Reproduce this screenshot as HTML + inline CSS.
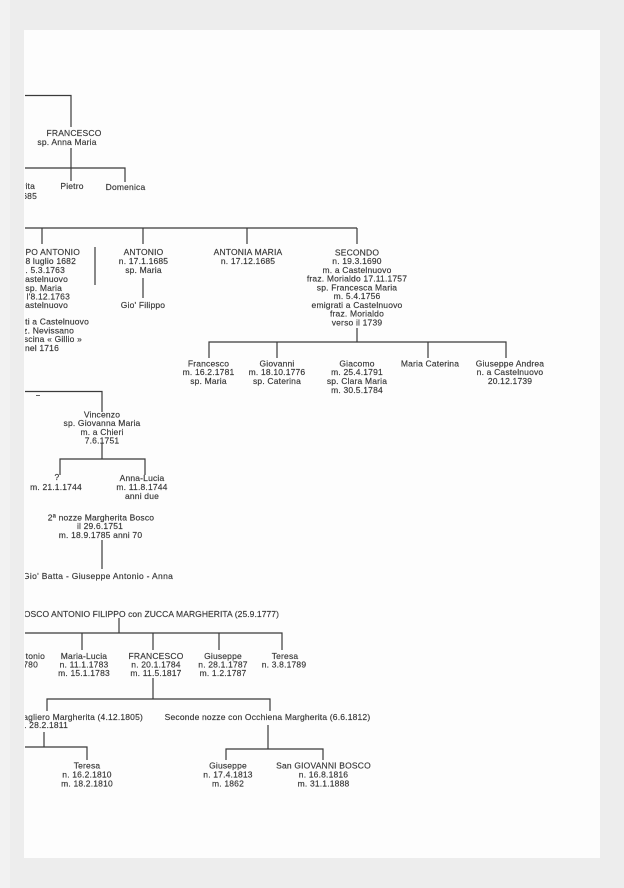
<!DOCTYPE html>
<html>
<head>
<meta charset="utf-8">
<style>
html,body{margin:0;padding:0;background:#ededed;}
svg{display:block;}
text{font-family:"Liberation Sans",Arial,sans-serif;font-size:8.5px;fill:#353535;stroke:#353535;stroke-width:0.15px;letter-spacing:0.18px;}
.m{text-anchor:middle;}
.e{text-anchor:end;}
</style>
</head>
<body>
<svg width="624" height="888" viewBox="0 0 624 888" xmlns="http://www.w3.org/2000/svg">
<defs>
<clipPath id="pg"><rect x="25" y="30" width="575" height="828"/></clipPath>
</defs>
<rect x="0" y="0" width="624" height="888" fill="#ededed"/>
<rect x="0" y="0" width="10" height="888" fill="#f2f2f2"/>
<rect x="24" y="30" width="576" height="828" fill="#fdfdfd"/>

<g clip-path="url(#pg)">
<g fill="none" stroke="#3a3a3a" stroke-width="1.2">
<path d="M20 95.5 H71 V127"/>
<path d="M71 148 V181"/>
<path d="M20 168 H125 V182"/>
<path d="M20 228 H357"/>
<path d="M42 228 V244 M143 228 V244 M247 228 V244 M357 228 V244"/>
<path d="M95 247 V285"/>
<path d="M143 278 V298"/>
<path d="M357 328 V342"/>
<path d="M209 358 V342 H506 V358"/>
<path d="M277 342 V358 M428 342 V358"/>
<path d="M20 391.5 H102 V412"/>
<path d="M36 395.5 H40" stroke-width="0.8"/>
<path d="M102 443 V459"/>
<path d="M60 475 V459 H145 V475"/>
<path d="M102 540 V569"/>
<path d="M119 618 V633"/>
<path d="M20 633 H282 V650"/>
<path d="M82 633 V650 M153 633 V650 M219 633 V650"/>
<path d="M153 678 V699"/>
<path d="M47 711 V699 H270 V711"/>
<path d="M44 732 V747"/>
<path d="M20 747 H87 V760"/>
<path d="M268 725 V749"/>
<path d="M226 760 V749 H323 V760"/>
</g>

<text class="m" x="74" y="136">FRANCESCO</text>
<text class="m" x="67" y="145">sp. Anna Maria</text>
<text class="e" x="35" y="189">Margherita</text>
<text class="e" x="37" y="199">n. 1685</text>
<text class="m" x="72" y="189">Pietro</text>
<text class="m" x="125.5" y="190">Domenica</text>

<text class="e" x="80" y="255">FILIPPO ANTONIO</text>
<text class="e" x="76" y="264">n. 8 luglio 1682</text>
<text class="e" x="65" y="273">m. 5.3.1763</text>
<text class="e" x="68" y="282">a Castelnuovo</text>
<text class="e" x="62" y="291">sp. Maria</text>
<text class="e" x="70" y="299.5">m. l'8.12.1763</text>
<text class="e" x="68" y="308">a Castelnuovo</text>
<text class="e" x="89" y="324.5">emigrati a Castelnuovo</text>
<text class="e" x="74" y="333.5">fraz. Nevissano</text>
<text class="e" x="82" y="342">cascina « Gillio »</text>
<text class="e" x="59" y="351">nel 1716</text>

<text class="m" x="143.5" y="255">ANTONIO</text>
<text class="m" x="143.5" y="264">n. 17.1.1685</text>
<text class="m" x="143.5" y="273">sp. Maria</text>
<text class="m" x="143" y="308">Gio' Filippo</text>

<text class="m" x="248" y="255">ANTONIA MARIA</text>
<text class="m" x="248" y="264">n. 17.12.1685</text>

<text class="m" x="357" y="255.3">SECONDO</text>
<text class="m" x="357" y="264">n. 19.3.1690</text>
<text class="m" x="357" y="273">m. a Castelnuovo</text>
<text class="m" x="357" y="281.5">fraz. Morialdo 17.11.1757</text>
<text class="m" x="357" y="290.5">sp. Francesca Maria</text>
<text class="m" x="357" y="299">m. 5.4.1756</text>
<text class="m" x="357" y="308">emigrati a Castelnuovo</text>
<text class="m" x="357" y="316.7">fraz. Morialdo</text>
<text class="m" x="357" y="325.7">verso il 1739</text>

<text class="m" x="208.5" y="366.3">Francesco</text>
<text class="m" x="208.5" y="375">m. 16.2.1781</text>
<text class="m" x="208.5" y="384">sp. Maria</text>
<text class="m" x="277" y="366.3">Giovanni</text>
<text class="m" x="277" y="375">m. 18.10.1776</text>
<text class="m" x="277" y="384">sp. Caterina</text>
<text class="m" x="357" y="366.3">Giacomo</text>
<text class="m" x="357" y="375">m. 25.4.1791</text>
<text class="m" x="357" y="384">sp. Clara Maria</text>
<text class="m" x="357" y="393">m. 30.5.1784</text>
<text class="m" x="430" y="366.3">Maria Caterina</text>
<text class="m" x="510" y="366.3">Giuseppe Andrea</text>
<text class="m" x="510" y="375">n. a Castelnuovo</text>
<text class="m" x="510" y="384">20.12.1739</text>

<text class="m" x="102" y="417.3">Vincenzo</text>
<text class="m" x="102" y="426">sp. Giovanna Maria</text>
<text class="m" x="102" y="435">m. a Chieri</text>
<text class="m" x="102" y="443.5">7.6.1751</text>
<text class="m" x="57" y="480">?</text>
<text class="m" x="56" y="490">m. 21.1.1744</text>
<text class="m" x="142" y="481">Anna-Lucia</text>
<text class="m" x="142" y="490">m. 11.8.1744</text>
<text class="m" x="142" y="499">anni due</text>
<text class="m" x="101" y="520.3">2ª nozze Margherita Bosco</text>
<text class="m" x="100" y="529">il 29.6.1751</text>
<text class="m" x="100.5" y="538">m. 18.9.1785 anni 70</text>
<text x="23" y="579" style="letter-spacing:0.32px">Gio' Batta - Giuseppe Antonio - Anna</text>

<text class="e" x="279" y="617" style="letter-spacing:0.07px">BOSCO ANTONIO FILIPPO con ZUCCA MARGHERITA (25.9.1777)</text>
<text class="e" x="45" y="659">Antonio</text>
<text class="e" x="38" y="667.5">n. 1780</text>
<text class="m" x="84" y="659">Maria-Lucia</text>
<text class="m" x="84" y="667.5">n. 11.1.1783</text>
<text class="m" x="84" y="676">m. 15.1.1783</text>
<text class="m" x="156" y="659">FRANCESCO</text>
<text class="m" x="156" y="667.5">n. 20.1.1784</text>
<text class="m" x="156" y="676">m. 11.5.1817</text>
<text class="m" x="223" y="659">Giuseppe</text>
<text class="m" x="223" y="667.5">n. 28.1.1787</text>
<text class="m" x="223" y="676">m. 1.2.1787</text>
<text class="m" x="285" y="659">Teresa</text>
<text class="m" x="284" y="667.5">n. 3.8.1789</text>

<text class="e" x="143" y="720">Prime nozze con Cagliero Margherita (4.12.1805)</text>
<text class="e" x="68" y="728">m. 28.2.1811</text>
<text class="m" x="267.5" y="720">Seconde nozze con Occhiena Margherita (6.6.1812)</text>

<text class="m" x="87" y="768.7">Teresa</text>
<text class="m" x="87" y="777.7">n. 16.2.1810</text>
<text class="m" x="87" y="786.5">m. 18.2.1810</text>
<text class="m" x="228" y="768.7">Giuseppe</text>
<text class="m" x="228" y="777.7">n. 17.4.1813</text>
<text class="m" x="228" y="786.5">m. 1862</text>
<text class="m" x="323.5" y="768.7">San GIOVANNI BOSCO</text>
<text class="m" x="323.5" y="777.7">n. 16.8.1816</text>
<text class="m" x="323.5" y="786.5">m. 31.1.1888</text>
</g>
</svg>
</body>
</html>
